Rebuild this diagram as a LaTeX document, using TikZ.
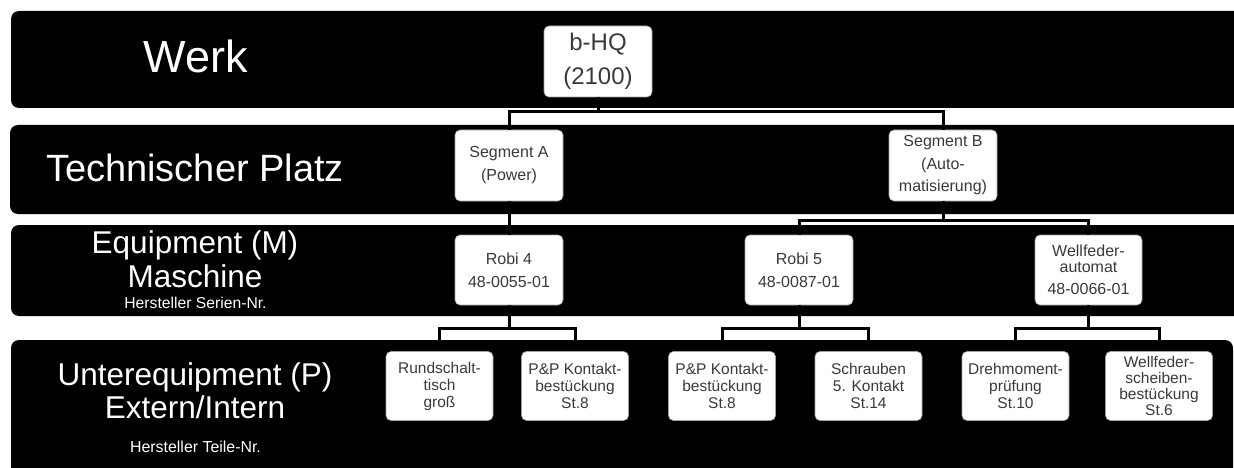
\documentclass[tikz,border=0pt]{standalone}
\usepackage{fontspec}
\setmainfont{Liberation Sans}
\definecolor{boxtext}{HTML}{3A3A3A}
\definecolor{boxline}{HTML}{A0A0A0}
\tikzset{
  band/.style={fill=black, rounded corners=8pt},
  lbl/.style={anchor=base, text=white, inner sep=0pt},
  box/.style={draw=boxline, line width=0.6pt, fill=white, rounded corners=5pt, text=boxtext,
    align=center, inner sep=0pt, minimum width=108pt, minimum height=70pt},
  kid/.style={box, minimum width=107pt, minimum height=69pt, font=\fontsize{15.5}{17}\selectfont},
  conn/.style={draw=black, line width=3pt}
}
\begin{document}
\begin{tikzpicture}[x=1pt,y=-1pt]
\useasboundingbox (0,0) rectangle (1234,468);
% bands
\fill[band] (11,11) rectangle (1250,108);
\fill[band] (10,125) rectangle (1250,214);
\fill[band] (11,225) rectangle (1250,316);
\fill[band] (11,340) rectangle (1233,490);
% band labels
\node[lbl, font=\fontsize{45}{54}\selectfont] (l1) at (196,73) {Werk};
\node[lbl, font=\fontsize{38}{45}\selectfont] (l2) at (195,182) {Technischer Platz};
\node[lbl, font=\fontsize{31.5}{34}\selectfont] (l3a) at (195,253) {Equipment (M)};
\node[lbl, font=\fontsize{31.5}{34}\selectfont] (l3b) at (195,287) {Maschine};
\node[lbl, font=\fontsize{15.7}{18}\selectfont] (l3c) at (195.5,308) {Hersteller Serien-Nr.};
\node[lbl, font=\fontsize{31.5}{34}\selectfont] (l4a) at (195,385) {Unterequipment (P)};
\node[lbl, font=\fontsize{31.5}{34}\selectfont] (l4b) at (195,418) {Extern/Intern};
\node[lbl, font=\fontsize{15.9}{18}\selectfont] (l4c) at (195.5,452) {Hersteller Teile-Nr.};
% nodes
\node[box, font=\fontsize{24}{34}\selectfont, minimum height=71pt] (hq) at (598,61.5) {b-HQ\\(2100)};
\node[box, font=\fontsize{16}{23}\selectfont, minimum height=71pt] (sa) at (509,165.5) {Segment A\\(Power)};
\node[box, font=\fontsize{16}{22.5}\selectfont, minimum height=71pt] (sb) at (943,165.5) {Segment B\\(Auto-\\matisierung)};
\node[box, font=\fontsize{16}{23}\selectfont] (r4) at (509,270) {Robi 4\\48-0055-01};
\node[box, font=\fontsize{16}{23}\selectfont] (r5) at (799,270) {Robi 5\\48-0087-01};
\node[box, font=\fontsize{16}{16}\selectfont, minimum width=107pt] (wf) at (1088.5,270) {Wellfeder-\\automat\\[6pt]48-0066-01};
\node[kid] (c1) at (439.5,386) {Rundschalt-\\tisch\\groß};
\node[kid] (c2) at (575,386) {P\&P Kontakt-\\bestückung\\St.8};
\node[kid] (c3) at (722,386) {P\&P Kontakt-\\bestückung\\St.8};
\node[kid] (c4) at (868.5,386) {Schrauben\\5. Kontakt\\St.14};
\node[kid] (c5) at (1015.5,386) {Drehmoment-\\prüfung\\St.10};
\node[kid, font=\fontsize{15.5}{15.7}\selectfont] (c6) at (1159,386) {Wellfeder-\\scheiben-\\bestückung\\St.6};
% connectors
\draw[conn] (hq.south) -- ++(0,14.5) -| (sa.north);
\draw[conn] (hq.south) -- ++(0,14.5) -| (sb.north);
\draw[conn] (sa.south) -- (r4.north);
\draw[conn] (sb.south) -- ++(0,19) -| (r5.north);
\draw[conn] (sb.south) -- ++(0,19) -| (wf.north);
\draw[conn] (r4.south) -- ++(0,23) -| (c1.north);
\draw[conn] (r4.south) -- ++(0,23) -| (c2.north);
\draw[conn] (r5.south) -- ++(0,23) -| (c3.north);
\draw[conn] (r5.south) -- ++(0,23) -| (c4.north);
\draw[conn] (wf.south) -- ++(0,23) -| (c5.north);
\draw[conn] (wf.south) -- ++(0,23) -| (c6.north);
\end{tikzpicture}
\end{document}
